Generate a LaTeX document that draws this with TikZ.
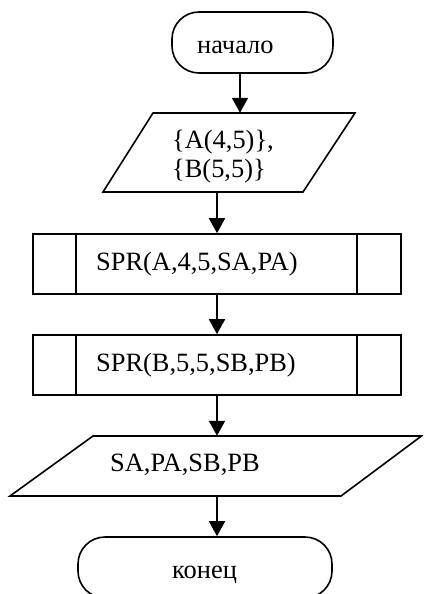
\documentclass[tikz,border=0pt]{standalone}
\usepackage{fontspec}
\setmainfont{Liberation Serif}
\usetikzlibrary{arrows.meta}
\begin{document}
\begin{tikzpicture}[x=1pt,y=-1pt,
  shapeline/.style={draw=black,line width=1.6pt},
  term/.style={shapeline,rectangle,rounded corners=27pt,inner sep=0pt},
  procbox/.style={shapeline,rectangle,minimum width=368pt,minimum height=60pt,inner sep=0pt},
  txt/.style={anchor=base west,inner sep=0pt,font=\fontsize{26.4}{30}\selectfont},
  arr/.style={line width=1.8pt,-{Triangle[width=16pt,length=15pt]}},
  hold/.style={rectangle,inner sep=0pt}
]
\useasboundingbox (0,0) rectangle (423,594);
\clip (0,0) rectangle (423,594);

% start terminal
\node[term,minimum width=161pt,minimum height=61pt] (start) at (252.5,42.5) {};
\node[txt] (tstart) at (197,53) {начало};

% input parallelogram
\draw[shapeline] (153,113) -- (355,113) -- (303,192) -- (103,192) -- cycle;
\node[hold,minimum width=200pt,minimum height=79pt] (in1) at (229,152.5) {};
\node[txt] (tin1) at (172,148) {\{A(4,5)\},};
\node[txt] (tin2) at (172,177) {\{B(5,5)\}};

% subroutine boxes
\node[procbox] (p1) at (217,264) {};
\draw[shapeline] ([xshift=44pt]p1.north west) -- ([xshift=44pt]p1.south west);
\draw[shapeline] ([xshift=-45pt]p1.north east) -- ([xshift=-45pt]p1.south east);
\node[txt] (tp1) at (96,270) {SPR(A,4,5,SA,PA)};

\node[procbox] (p2) at (217,365) {};
\draw[shapeline] ([xshift=44pt]p2.north west) -- ([xshift=44pt]p2.south west);
\draw[shapeline] ([xshift=-45pt]p2.north east) -- ([xshift=-45pt]p2.south east);
\node[txt] (tp2) at (96,371) {SPR(B,5,5,SB,PB)};

% output parallelogram
\draw[shapeline] (93,436) -- (421.5,436) -- (341,496) -- (10,496) -- cycle;
\node[hold,minimum width=250pt,minimum height=60pt] (out1) at (216,466) {};
\node[txt] (tout) at (110,471) {SA,PA,SB,PB};

% end terminal
\node[term,minimum width=254pt,minimum height=61pt] (stop) at (205,567.5) {};
\node[txt] (tstop) at (172,578) {конец};

% connectors
\coordinate (ca) at (240,0);
\coordinate (cb) at (217,0);
\draw[arr] (start.south -| ca) -- (in1.north -| ca);
\draw[arr] (in1.south -| cb) -- (p1.north);
\draw[arr] (p1.south) -- (p2.north);
\draw[arr] (p2.south) -- (out1.north -| cb);
\draw[arr] (out1.south -| cb) -- (stop.north -| cb);
\end{tikzpicture}
\end{document}
